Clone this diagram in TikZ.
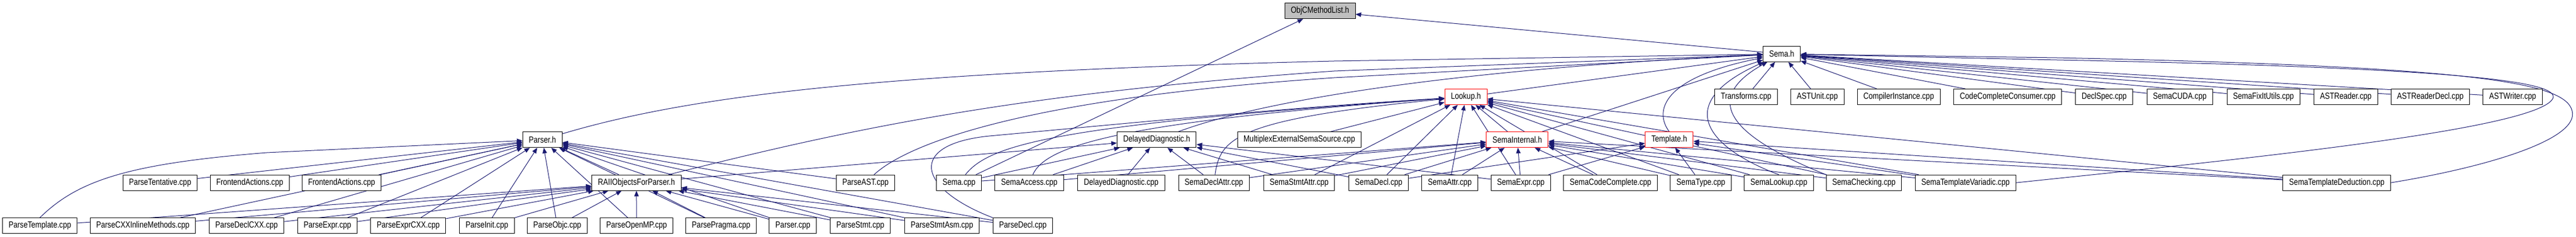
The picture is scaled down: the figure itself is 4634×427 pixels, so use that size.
\documentclass[tikz,border=0pt]{standalone}
\usepackage{fontspec}
\newfontfamily\dotfont{Liberation Sans}[FakeStretch=0.82]
\usepackage{tikz}
\usetikzlibrary{arrows.meta}
\definecolor{edgeblue}{HTML}{191970}
\definecolor{boxgray}{HTML}{BFBFBF}
\pgfdeclarelayer{back}
\pgfsetlayers{back,main}

\begin{document}
\begin{tikzpicture}[x=0.5pt,y=-0.5pt,
  file/.style={draw=black,line width=0.5pt,fill=white,font=\dotfont\fontsize{8}{9.6}\selectfont,minimum height=14pt,inner xsep=5.5pt,inner ysep=0pt},
  cut/.style={file,draw=red},
  cur/.style={file,fill=boxgray},
  dep/.style={draw=edgeblue,line width=0.5pt,-{Triangle[length=5pt,width=4pt]}}]
\useasboundingbox (0,0) rectangle (4634,427);

\node[cur] (objclist) at (2374.5,19.7) {ObjCMethodList.h};
\node[file] (semah) at (3205.1,97.2) {Sema.h};

\node[cut] (lookup) at (2637,174.5) {Lookup.h};
\node[file] (transforms) at (3141,174.5) {Transforms.cpp};
\node[file] (astunit) at (3269.2,174.5) {ASTUnit.cpp};
\node[file] (compinst) at (3415.6,174.5) {CompilerInstance.cpp};
\node[file] (cccons) at (3611.7,174.5) {CodeCompleteConsumer.cpp};
\node[file] (declspec) at (3785.2,174.5) {DeclSpec.cpp};
\node[file] (semacuda) at (3921.2,174.5) {SemaCUDA.cpp};
\node[file] (fixit) at (4071.8,174.5) {SemaFixItUtils.cpp};
\node[file] (astreader) at (4219.8,174.5) {ASTReader.cpp};
\node[file] (readerdecl) at (4371.8,174.5) {ASTReaderDecl.cpp};
\node[file] (astwriter) at (4520,174.5) {ASTWriter.cpp};

\node[file] (parserh) at (975.8,251.7) {Parser.h};
\node[file] (delayedh) at (2080.8,251.7) {DelayedDiagnostic.h};
\node[file] (multiplex) at (2337.3,251.7) {MultiplexExternalSemaSource.cpp};
\node[cut] (semainternal) at (2729.4,251.7) {SemaInternal.h};
\node[cut] (templateh) at (3002.8,251.7) {Template.h};

\node[file] (tentative) at (288,329.2) {ParseTentative.cpp};
\node[file] (frontendA) at (449.2,329.2) {FrontendActions.cpp};
\node[file] (frontendB) at (614.5,329.2) {FrontendActions.cpp};
\node[file] (raii) at (1144.9,329.2) {RAIIObjectsForParser.h};
\node[file] (parseast) at (1556.9,329.2) {ParseAST.cpp};
\node[file] (semacpp) at (1725.2,329.2) {Sema.cpp};
\node[file] (semaaccess) at (1851.5,329.2) {SemaAccess.cpp};
\node[file] (delayedcpp) at (2016.9,329.2) {DelayedDiagnostic.cpp};
\node[file] (declattr) at (2183.7,329.2) {SemaDeclAttr.cpp};
\node[file] (stmtattr) at (2337,329.2) {SemaStmtAttr.cpp};
\node[file] (semadecl) at (2480.1,329.2) {SemaDecl.cpp};
\node[file] (semaattr) at (2607.9,329.2) {SemaAttr.cpp};
\node[file] (semaexpr) at (2735.7,329.2) {SemaExpr.cpp};
\node[file] (codecompl) at (2897.2,329.2) {SemaCodeComplete.cpp};
\node[file] (sematype) at (3059.7,329.2) {SemaType.cpp};
\node[file] (semalookup) at (3200,329.2) {SemaLookup.cpp};
\node[file] (checking) at (3353,329.2) {SemaChecking.cpp};
\node[file] (variadic) at (3535.7,329.2) {SemaTemplateVariadic.cpp};
\node[file] (deduction) at (4203.6,329.2) {SemaTemplateDeduction.cpp};

\node[file] (ptemplate) at (71.7,406.7) {ParseTemplate.cpp};
\node[file] (inlinemeth) at (256.9,406.7) {ParseCXXInlineMethods.cpp};
\node[file] (declcxx) at (443.6,406.7) {ParseDeclCXX.cpp};
\node[file] (pexpr) at (589,406.7) {ParseExpr.cpp};
\node[file] (exprcxx) at (734.4,406.7) {ParseExprCXX.cpp};
\node[file] (pinit) at (875.8,406.7) {ParseInit.cpp};
\node[file] (pobjc) at (1002.5,406.7) {ParseObjc.cpp};
\node[file] (openmp) at (1145.1,406.7) {ParseOpenMP.cpp};
\node[file] (pragma) at (1297.2,406.7) {ParsePragma.cpp};
\node[file] (parsercpp) at (1426.3,406.7) {Parser.cpp};
\node[file] (pstmt) at (1547.7,406.7) {ParseStmt.cpp};
\node[file] (stmtasm) at (1694.4,406.7) {ParseStmtAsm.cpp};
\node[file] (parsedecl) at (1840,406.7) {ParseDecl.cpp};

\begin{pgfonlayer}{back}
% ObjCMethodList.h
\draw[dep] (semah) -- (objclist); \draw[dep] (semacpp) -- (objclist);
% Sema.h
\draw[dep] (parserh) .. controls (1250,170) and (1600,130) .. (2400,110) -- (semah);
\draw[dep] (raii) .. controls (1500,240) and (1800,170) .. (2400,128) -- (semah);
\draw[dep] (parseast) .. controls (1620,270) and (1800,180) .. (2400,140) -- (semah);
\draw[dep] (delayedh) .. controls (2300,170) and (2700,120) .. (semah);
\draw[dep] (lookup) -- (semah); \draw[dep] (semainternal) -- (semah);
\draw[dep] (templateh.north) .. controls (2975,200) and (2990,140) .. (semah);
\draw[dep] (semalookup.north) .. controls (3080,270) and (3000,190) .. (semah);
\draw[dep] (checking.north west) .. controls (3150,260) and (3040,190) .. (semah);
\draw[dep] (transforms) -- (semah); \draw[dep] (astunit) -- (semah); \draw[dep] (compinst) -- (semah);
\draw[dep] (cccons) -- (semah); \draw[dep] (declspec) -- (semah); \draw[dep] (semacuda) -- (semah);
\draw[dep] (fixit) -- (semah); \draw[dep] (astreader) -- (semah); \draw[dep] (readerdecl) -- (semah);
\draw[dep] (astwriter) -- (semah);
\draw[dep] (variadic.east) .. controls (4000,290) and (4560,235) .. (4592,178) .. controls (4610,145) and (4400,122) .. (3700,108) -- (semah);
\draw[dep] (deduction.east) .. controls (4480,300) and (4640,250) .. (4627,200) .. controls (4615,148) and (4450,120) .. (3700,104) -- (semah);
% Parser.h
\draw[dep] (ptemplate.north) .. controls (140,325) and (230,295) .. (480,275) -- (parserh);
\draw[dep] (inlinemeth) -- (parserh); \draw[dep] (declcxx) -- (parserh); \draw[dep] (pexpr) -- (parserh);
\draw[dep] (exprcxx) -- (parserh); \draw[dep] (tentative) -- (parserh); \draw[dep] (frontendA) -- (parserh);
\draw[dep] (frontendB) -- (parserh); \draw[dep] (pinit) -- (parserh); \draw[dep] (pobjc) -- (parserh);
\draw[dep] (openmp) -- (parserh); \draw[dep] (pragma) -- (parserh); \draw[dep] (parsercpp) -- (parserh);
\draw[dep] (pstmt) -- (parserh); \draw[dep] (stmtasm) -- (parserh); \draw[dep] (parsedecl) -- (parserh);
\draw[dep] (parseast) -- (parserh); \draw[dep] (raii) -- (parserh);
% RAIIObjectsForParser.h
\draw[dep] (ptemplate) -- (raii); \draw[dep] (inlinemeth) -- (raii); \draw[dep] (declcxx) -- (raii);
\draw[dep] (pexpr) -- (raii); \draw[dep] (exprcxx) -- (raii); \draw[dep] (pinit) -- (raii);
\draw[dep] (pobjc) -- (raii); \draw[dep] (openmp) -- (raii); \draw[dep] (pragma) -- (raii);
\draw[dep] (parsercpp) -- (raii); \draw[dep] (pstmt) -- (raii); \draw[dep] (stmtasm) -- (raii);
\draw[dep] (parsedecl) -- (raii);
% DelayedDiagnostic.h
\draw[dep] (raii) -- (delayedh); \draw[dep] (semacpp) -- (delayedh); \draw[dep] (semaaccess) -- (delayedh);
\draw[dep] (delayedcpp) -- (delayedh); \draw[dep] (declattr) -- (delayedh); \draw[dep] (stmtattr) -- (delayedh);
\draw[dep] (semadecl) -- (delayedh); \draw[dep] (semaexpr) -- (delayedh);
% Lookup.h
\draw[dep] (parsedecl.north west) .. controls (1650,340) and (1630,260) .. (1780,245) .. controls (2000,225) and (2300,195) .. (lookup);
\draw[dep] (semacpp) .. controls (1780,260) and (1900,225) .. (lookup);
\draw[dep] (semaaccess) .. controls (1880,265) and (2000,220) .. (lookup);
\draw[dep] (declattr) .. controls (2195,250) and (2220,215) .. (lookup);
\draw[dep] (multiplex) -- (lookup); \draw[dep] (semainternal) -- (lookup); \draw[dep] (stmtattr) -- (lookup);
\draw[dep] (semadecl) -- (lookup); \draw[dep] (semaattr) -- (lookup); \draw[dep] (semaexpr) -- (lookup);
\draw[dep] (codecompl) -- (lookup); \draw[dep] (sematype) -- (lookup); \draw[dep] (semalookup) -- (lookup);
\draw[dep] (checking) -- (lookup); \draw[dep] (variadic) -- (lookup); \draw[dep] (deduction) -- (lookup);
% SemaInternal.h
\draw[dep] (semacpp) -- (semainternal); \draw[dep] (semaaccess) -- (semainternal); \draw[dep] (declattr) -- (semainternal);
\draw[dep] (stmtattr) -- (semainternal); \draw[dep] (semadecl) -- (semainternal); \draw[dep] (semaattr) -- (semainternal);
\draw[dep] (semaexpr) -- (semainternal); \draw[dep] (codecompl) -- (semainternal); \draw[dep] (sematype) -- (semainternal);
\draw[dep] (semalookup) -- (semainternal); \draw[dep] (checking) -- (semainternal); \draw[dep] (variadic) -- (semainternal);
\draw[dep] (deduction) -- (semainternal);
% Template.h
\draw[dep] (semadecl) -- (templateh); \draw[dep] (semaexpr) -- (templateh); \draw[dep] (sematype) -- (templateh);
\draw[dep] (variadic) -- (templateh); \draw[dep] (deduction) -- (templateh);
\end{pgfonlayer}

\end{tikzpicture}
\end{document}
